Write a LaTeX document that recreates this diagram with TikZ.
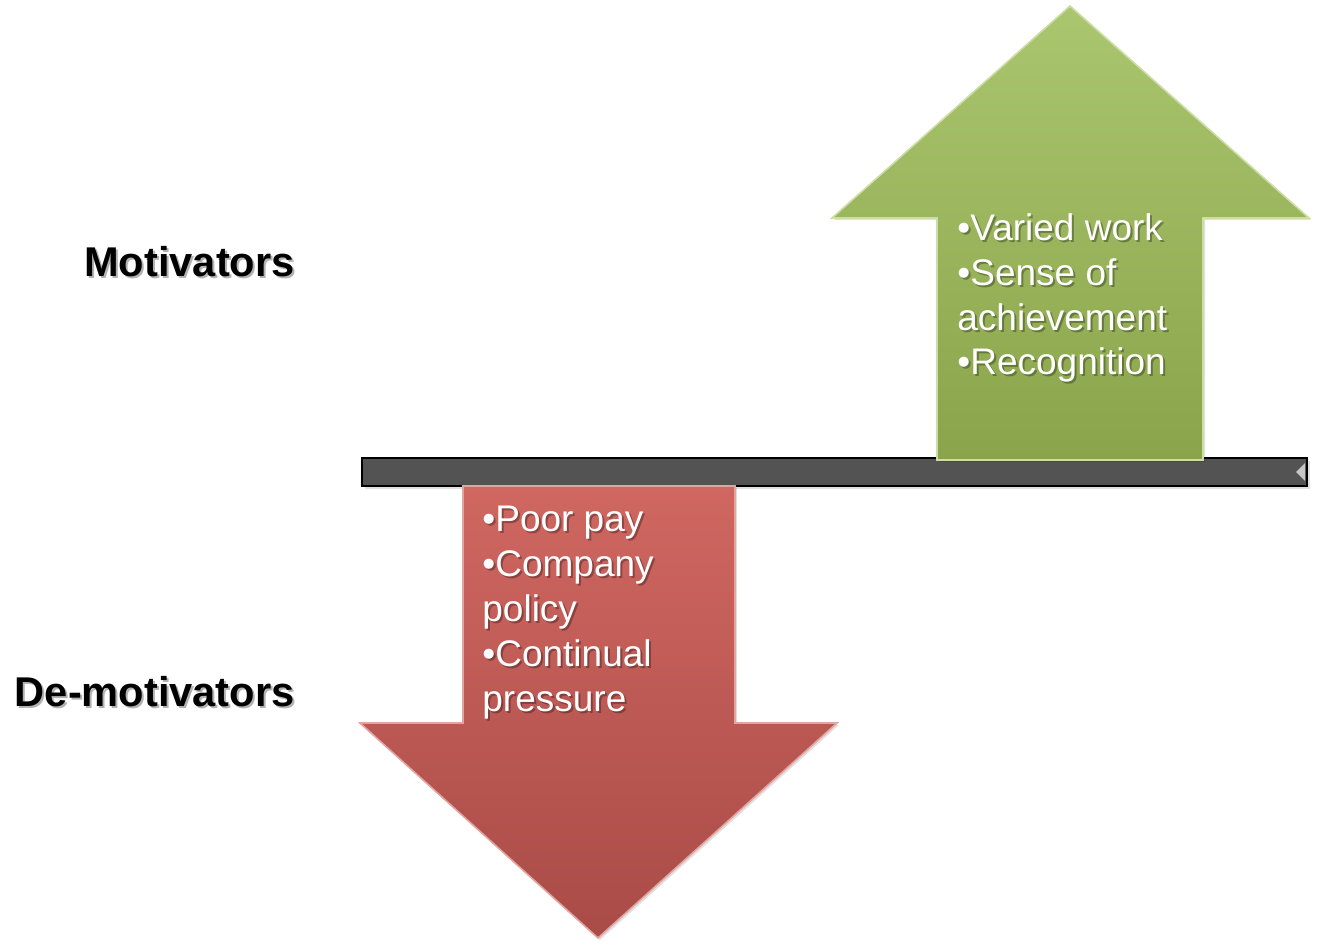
\documentclass[tikz,border=0pt]{standalone}
\usepackage{fontspec}
\setmainfont{Liberation Sans}
\usetikzlibrary{positioning}

\definecolor{upgreentop}{HTML}{AAC66E}
\definecolor{upgreenbot}{HTML}{8AA44B}
\definecolor{downredtop}{HTML}{D06761}
\definecolor{downredbot}{HTML}{A94B47}
\definecolor{bargray}{HTML}{535353}

\begin{document}
\begin{tikzpicture}[
    x=0.5pt, y=-0.5pt,
    sidelabel/.style={font=\fontsize{20.8}{25}\selectfont\bfseries, anchor=base east, inner sep=0pt},
    itemlist/.style={font=\fontsize{18.5}{22.4}\selectfont, text=white, align=left, anchor=base west, inner sep=0pt},
    textshadow/.style={text=black, opacity=0.3},
    shapeshadow/.style={fill=black, opacity=0.12},
    uparrow/.style={top color=upgreentop, bottom color=upgreenbot, draw=upgreentop!60!white, line width=0.8pt},
    downarrow/.style={top color=downredtop, bottom color=downredbot, draw=downredtop!60!white, line width=0.8pt}
]
    \useasboundingbox (0,0) rectangle (1319,952);

    % Balance bar
    \fill[shapeshadow] (365,461) rectangle (1310,489);
    \draw[fill=bargray, draw=black, line width=1pt] (362,458) rectangle (1307,486);
    \fill[gray!45] (1305,463) -- (1296,472) -- (1305,481) -- cycle;

    % Motivators arrow (up)
    \fill[shapeshadow] (1072,8) -- (1311,220) -- (1205,220) -- (1205,462) -- (939,462) -- (939,220) -- (834,220) -- cycle;
    \draw[uparrow] (1070,6) -- (1309,218) -- (1203,218) -- (1203,460) -- (937,460) -- (937,218) -- (832,218) -- cycle;

    % De-motivators arrow (down)
    \fill[shapeshadow] (465,488) -- (737,488) -- (737,725) -- (839,725) -- (600,940) -- (362,725) -- (465,725) -- cycle;
    \draw[downarrow] (463,486) -- (735,486) -- (735,723) -- (837,723) -- (598,938) -- (360,723) -- (463,723) -- cycle;

    % Side labels
    \node[sidelabel, textshadow] (motiv-s) at (297,279) {Motivators};
    \node[sidelabel] (motiv) at (295,277) {Motivators};
    \node[sidelabel, textshadow] (demotiv-s) at (297,708) {De-motivators};
    \node[sidelabel] (demotiv) at (295,706) {De-motivators};

    % Arrow contents
    \node[itemlist, textshadow] (upitems-s) at (959,377) {•Varied work\\•Sense of\\achievement\\•Recognition};
    \node[itemlist] (upitems) at (957,375) {•Varied work\\•Sense of\\achievement\\•Recognition};
    \node[itemlist, textshadow] (downitems-s) at (484,713) {•Poor pay\\•Company\\policy\\•Continual\\pressure};
    \node[itemlist] (downitems) at (482,711) {•Poor pay\\•Company\\policy\\•Continual\\pressure};
\end{tikzpicture}
\end{document}
